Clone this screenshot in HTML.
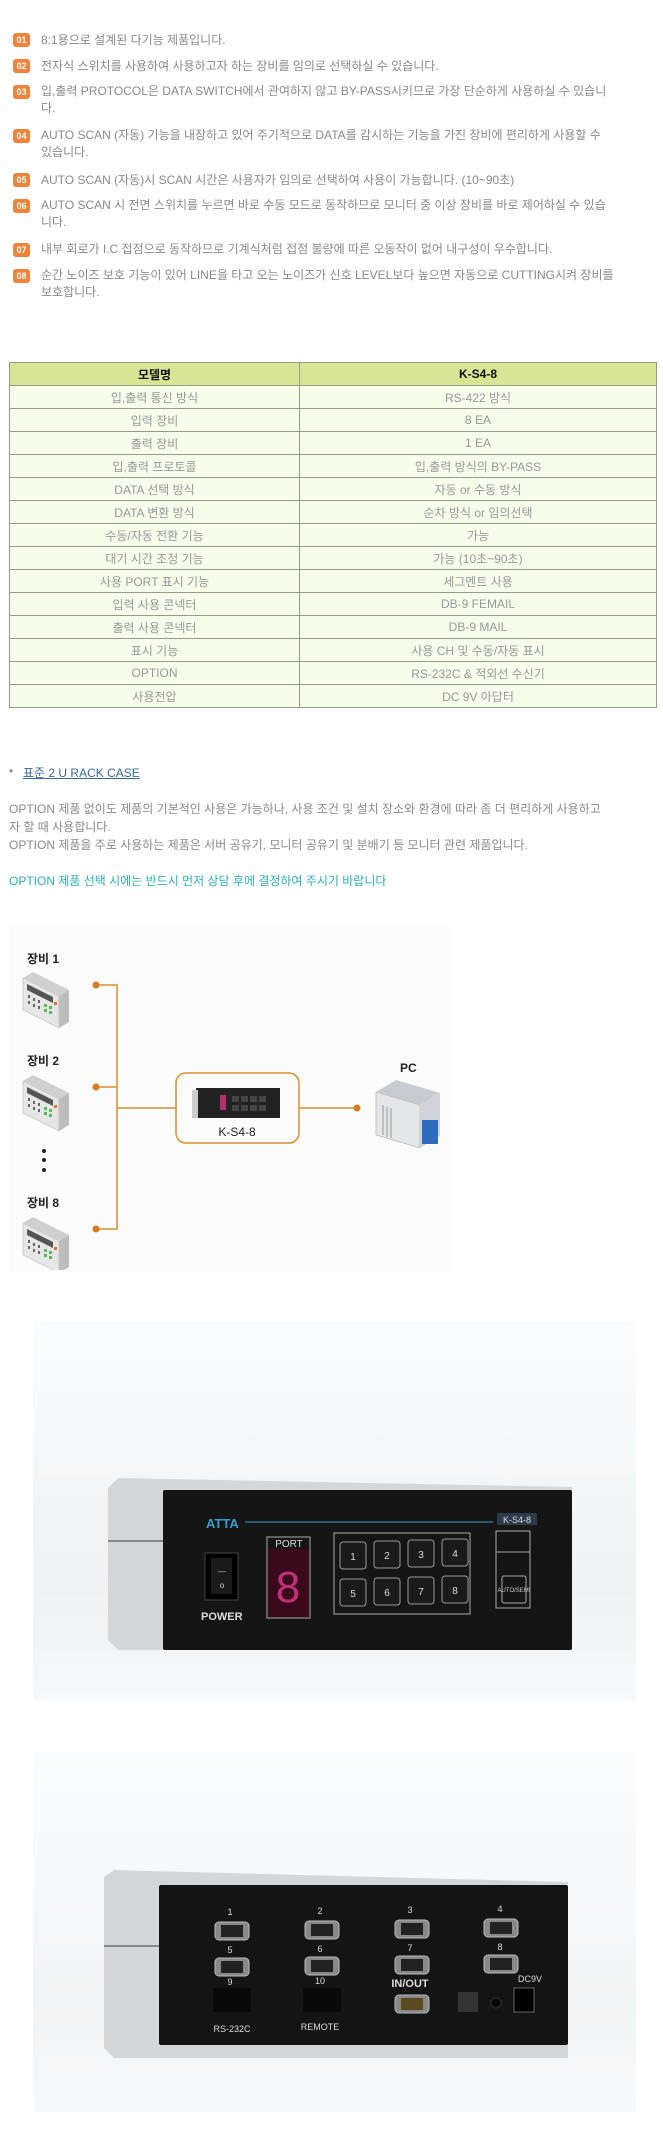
<!DOCTYPE html>
<html><head><meta charset="utf-8">
<style>
*{margin:0;padding:0;box-sizing:border-box}
body{width:663px;height:2130px;background:#fff;position:relative;overflow:hidden;font-family:"Liberation Sans","Noto Sans CJK KR","NanumGothic",sans-serif;font-size:12px;color:#8a8a8a}
.a{position:absolute;white-space:nowrap}
.b{position:absolute;left:13px;width:17px;height:14px;background:#f0823a;border-radius:3px;color:#fff;font-size:9px;font-weight:bold;text-align:center;line-height:14px}
.t{position:absolute;left:41px;line-height:17px}
table{position:absolute;left:9px;top:362px;width:648px;border-collapse:collapse}
td{border:1px solid #9a9a88;height:23px;text-align:center;background:#f6fdea;color:#999;font-size:12px;padding:0}
tr:first-child td{background:#d8e594;color:#111;font-weight:bold}
.k{position:absolute;font-weight:bold;color:#333;font-size:12px}
.dot{position:absolute;width:7px;height:7px;border-radius:50%;background:#d87a1e}
.ln{position:absolute;background:#d8902e}
</style></head><body>
<div class="b" style="top:33px">01</div><div class="t" style="top:32px">8:1용으로 설계된 다기능 제품입니다.</div>
<div class="b" style="top:59px">02</div><div class="t" style="top:58px">전자식 스위치를 사용하여 사용하고자 하는 장비를 임의로 선택하실 수 있습니다.</div>
<div class="b" style="top:85px">03</div><div class="t" style="top:83px">입,출력 PROTOCOL은 DATA SWITCH에서 관여하지 않고 BY-PASS시키므로 가장 단순하게 사용하실 수 있습니<br>다.</div>
<div class="b" style="top:129px">04</div><div class="t" style="top:127px">AUTO SCAN (자동) 기능을 내장하고 있어 주기적으로 DATA를 감시하는 기능을 가진 장비에 편리하게 사용할 수<br>있습니다.</div>
<div class="b" style="top:173px">05</div><div class="t" style="top:172px">AUTO SCAN (자동)시 SCAN 시간은 사용자가 임의로 선택하여 사용이 가능합니다. (10~90초)</div>
<div class="b" style="top:199px">06</div><div class="t" style="top:197px">AUTO SCAN 시 전면 스위치를 누르면 바로 수동 모드로 동작하므로 모니터 중 이상 장비를 바로 제어하실 수 있습<br>니다.</div>
<div class="b" style="top:243px">07</div><div class="t" style="top:241px">내부 회로가 I.C 접점으로 동작하므로 기계식처럼 접점 불량에 따른 오동작이 없어 내구성이 우수합니다.</div>
<div class="b" style="top:269px">08</div><div class="t" style="top:267px">순간 노이즈 보호 기능이 있어 LINE을 타고 오는 노이즈가 신호 LEVEL보다 높으면 자동으로 CUTTING시켜 장비를<br>보호합니다.</div>

<table>
<tr><td style="width:290px">모델명</td><td>K-S4-8</td></tr>
<tr><td>입,출력 통신 방식</td><td>RS-422 방식</td></tr>
<tr><td>입력 장비</td><td>8 EA</td></tr>
<tr><td>출력 장비</td><td>1 EA</td></tr>
<tr><td>입,출력 프로토콜</td><td>입,출력 방식의 BY-PASS</td></tr>
<tr><td>DATA 선택 방식</td><td>자동 or 수동 방식</td></tr>
<tr><td>DATA 변환 방식</td><td>순차 방식 or 임의선택</td></tr>
<tr><td>수동/자동 전환 기능</td><td>가능</td></tr>
<tr><td>대기 시간 조정 기능</td><td>가능 (10초~90초)</td></tr>
<tr><td>사용 PORT 표시 기능</td><td>세그멘트 사용</td></tr>
<tr><td>입력 사용 콘넥터</td><td>DB-9 FEMAIL</td></tr>
<tr><td>출력 사용 콘넥터</td><td>DB-9 MAIL</td></tr>
<tr><td>표시 기능</td><td>사용 CH 및 수동/자동 표시</td></tr>
<tr><td>OPTION</td><td>RS-232C &amp; 적외선 수신기</td></tr>
<tr><td>사용전압</td><td>DC 9V 아답터</td></tr>
</table>

<div class="a" style="left:9px;top:764px;color:#6a8fb8">•</div>
<div class="a" style="left:23px;top:764px;color:#3a6a9a;text-decoration:underline">표준 2 U RACK CASE</div>
<div class="a" style="left:9px;top:800px;line-height:18px">OPTION 제품 없이도 제품의 기본적인 사용은 가능하나, 사용 조건 및 설치 장소와 환경에 따라 좀 더 편리하게 사용하고<br>자 할 때 사용합니다.<br>OPTION 제품을 주로 사용하는 제품은 서버 공유기, 모니터 공유기 및 분배기 등 모니터 관련 제품입니다.</div>
<div class="a" style="left:9px;top:872px;color:#2fb0b0">OPTION 제품 선택 시에는 반드시 먼저 상담 후에 결정하여 주시기 바랍니다</div>

<div class="a" style="left:9px;top:925px;width:440px;height:348px;background:#fbfbfb"></div>
<svg class="a" style="left:0;top:940px" width="460" height="330">
<defs><g id="dev">
<polygon points="0,0 36,18 36,50 0,32" fill="#e6e6e6" stroke="#aaa" stroke-width="0.5"/>
<polygon points="36,18 46,12 46,44 36,50" fill="#bdbdbd"/>
<polygon points="0,0 10,-6 46,12 36,18" fill="#d0d0d0"/>
<polygon points="4,6 30,19 30,25 4,12" fill="#555"/>
<g fill="#666"><rect x="5" y="17" width="2" height="3"/><rect x="10" y="20" width="2" height="3"/><rect x="15" y="22" width="2" height="3"/><rect x="5" y="23" width="2" height="3"/><rect x="10" y="26" width="2" height="3"/><rect x="15" y="28" width="2" height="3"/></g>
<g fill="#5cb85c"><rect x="21" y="26" width="3" height="3"/><rect x="26" y="28" width="3" height="3"/><rect x="21" y="31" width="3" height="3"/><rect x="26" y="33" width="3" height="3"/></g>
<rect x="31" y="24" width="3" height="3" fill="#e07030"/>
</g></defs>
<g font-size="12" fill="#222" font-weight="bold">
<text x="27" y="23">장비 1</text><text x="27" y="125">장비 2</text><text x="27" y="267">장비 8</text><text x="400" y="132">PC</text></g>
<use href="#dev" x="23" y="38"/><use href="#dev" x="23" y="141"/><use href="#dev" x="23" y="283"/>
<g fill="#222"><circle cx="44" cy="211" r="2"/><circle cx="44" cy="220" r="2"/><circle cx="44" cy="230" r="2"/></g>
<g stroke="#d8902e" stroke-width="1.5" fill="none">
<path d="M96 45 H117 V289 H96"/><path d="M96 147 H117"/><path d="M117 168 H176"/><path d="M299 168 H357"/>
<rect x="176" y="133" width="123" height="70" rx="10"/></g>
<g fill="#d87a1e"><circle cx="96" cy="45" r="3.5"/><circle cx="96" cy="147" r="3.5"/><circle cx="96" cy="289" r="3.5"/><circle cx="357" cy="168" r="3.5"/></g>
<rect x="196" y="148" width="84" height="30" fill="#222"/><rect x="192" y="150" width="6" height="28" fill="#ccc"/>
<rect x="220" y="155" width="6" height="15" fill="#b0306a"/>
<g fill="#444"><rect x="232" y="156" width="7" height="6"/><rect x="241" y="156" width="7" height="6"/><rect x="250" y="156" width="7" height="6"/><rect x="259" y="156" width="7" height="6"/><rect x="232" y="165" width="7" height="6"/><rect x="241" y="165" width="7" height="6"/><rect x="250" y="165" width="7" height="6"/><rect x="259" y="165" width="7" height="6"/></g>
<text x="237" y="196" font-size="12" fill="#222" text-anchor="middle">K-S4-8</text>
<polygon points="376,152 376,195 420,208 420,165" fill="#e4e6e8" stroke="#999" stroke-width=".5"/>
<polygon points="376,152 396,140 440,153 420,165" fill="#c8ccd0"/>
<polygon points="420,165 440,153 440,196 420,208" fill="#d0d4d8"/>
<rect x="422" y="180" width="16" height="24" fill="#2b6cc0"/>
<g stroke="#999"><line x1="383" y1="165" x2="383" y2="195"/><line x1="387" y1="167" x2="387" y2="197"/><line x1="391" y1="168" x2="391" y2="198"/></g>
</svg>

<div class="a" style="left:33px;top:1321px;width:603px;height:380px;background:linear-gradient(#fbfcfd,#eef2f5 70%,#f6f8fa)"></div>
<svg class="a" style="left:0;top:1460px" width="663" height="210">
<polygon points="108,28 118,18 572,27 572,190 118,190 108,180" fill="#d4d6d8"/>
<rect x="108" y="80" width="56" height="2" fill="#888"/>
<rect x="163" y="30" width="409" height="160" fill="#151515" rx="2"/>
<text x="206" y="68" fill="#3a9fd0" font-size="13" font-weight="bold">ATTA</text>
<line x1="245" y1="62" x2="493" y2="62" stroke="#3a9fd0" stroke-width="1"/>
<rect x="497" y="53" width="40" height="12" fill="#2a3a4a"/><text x="517" y="63" fill="#ddd" font-size="9" text-anchor="middle">K-S4-8</text>
<rect x="205" y="93" width="33" height="47" fill="#000" stroke="#444"/><rect x="211" y="98" width="21" height="36" fill="#1a1a1a"/>
<text x="222" y="114" fill="#ccc" font-size="8" text-anchor="middle">—</text><text x="222" y="128" fill="#ccc" font-size="8" text-anchor="middle">o</text>
<text x="201" y="160" fill="#ddd" font-size="11" font-weight="bold">POWER</text>
<rect x="267" y="77" width="43" height="81" fill="none" stroke="#aaa"/><rect x="268" y="89" width="41" height="68" fill="#3a0a1a"/>
<text x="289" y="87" fill="#ddd" font-size="10" text-anchor="middle">PORT</text>
<text x="288" y="142" fill="#c0307a" font-size="44" text-anchor="middle">8</text>
<rect x="334" y="73" width="136" height="81" fill="none" stroke="#aaa"/>
<g fill="#1a1a1a" stroke="#999"><rect x="340" y="82" width="26" height="27" rx="3"/><rect x="374" y="81" width="26" height="27" rx="3"/><rect x="408" y="80" width="26" height="27" rx="3"/><rect x="442" y="79" width="26" height="27" rx="3"/>
<rect x="340" y="119" width="26" height="27" rx="3"/><rect x="374" y="118" width="26" height="27" rx="3"/><rect x="408" y="117" width="26" height="27" rx="3"/><rect x="442" y="116" width="26" height="27" rx="3"/></g>
<g fill="#ddd" font-size="10" text-anchor="middle"><text x="353" y="100">1</text><text x="387" y="99">2</text><text x="421" y="98">3</text><text x="455" y="97">4</text><text x="353" y="137">5</text><text x="387" y="136">6</text><text x="421" y="135">7</text><text x="455" y="134">8</text></g>
<rect x="496" y="71" width="34" height="77" fill="none" stroke="#aaa"/><line x1="496" y1="92" x2="530" y2="92" stroke="#aaa"/>
<rect x="502" y="116" width="24" height="27" rx="2" fill="none" stroke="#aaa"/><text x="514" y="132" fill="#ccc" font-size="6" text-anchor="middle">AUTO/SEMI</text>
</svg>

<div class="a" style="left:33px;top:1750px;width:603px;height:362px;background:linear-gradient(#fbfcfd,#f1f4f6 70%,#f6f8fa)"></div>
<svg class="a" style="left:0;top:1870px" width="663" height="200">
<polygon points="104,7 114,0 568,12 568,188 114,188 104,178" fill="#d4d6d8"/>
<rect x="104" y="75" width="56" height="2" fill="#888"/>
<rect x="159" y="15" width="409" height="160" fill="#141414" rx="2"/>
<g id="c"></g>
<g fill="#888" stroke="#bbb">
<rect x="215" y="52" width="34" height="18" rx="4"/><rect x="305" y="51" width="34" height="18" rx="4"/><rect x="395" y="50" width="34" height="18" rx="4"/><rect x="484" y="49" width="34" height="18" rx="4"/>
<rect x="215" y="88" width="34" height="18" rx="4"/><rect x="305" y="87" width="34" height="18" rx="4"/><rect x="395" y="86" width="34" height="18" rx="4"/><rect x="484" y="85" width="34" height="18" rx="4"/>
<rect x="395" y="125" width="34" height="18" rx="4"/></g>
<g fill="#222"><rect x="221" y="55" width="22" height="12"/><rect x="311" y="54" width="22" height="12"/><rect x="401" y="53" width="22" height="12"/><rect x="490" y="52" width="22" height="12"/>
<rect x="221" y="91" width="22" height="12"/><rect x="311" y="90" width="22" height="12"/><rect x="401" y="89" width="22" height="12"/><rect x="490" y="88" width="22" height="12"/><rect x="401" y="128" width="22" height="12" fill="#5a4a20"/>
<rect x="213" y="118" width="38" height="24" fill="#0a0a0a"/><rect x="303" y="118" width="38" height="24" fill="#0a0a0a"/></g>
<g fill="#ddd" font-size="9" text-anchor="middle"><text x="230" y="45">1</text><text x="320" y="44">2</text><text x="410" y="43">3</text><text x="500" y="42">4</text><text x="230" y="83">5</text><text x="320" y="82">6</text><text x="410" y="81">7</text><text x="500" y="80">8</text><text x="230" y="115">9</text><text x="320" y="114">10</text>
<text x="232" y="162">RS-232C</text><text x="320" y="160">REMOTE</text><text x="530" y="112">DC9V</text></g>
<text x="410" y="117" fill="#ddd" font-size="11" font-weight="bold" text-anchor="middle">IN/OUT</text>
<rect x="458" y="122" width="20" height="20" fill="#333"/><circle cx="496" cy="133" r="5" fill="#000" stroke="#333"/><rect x="514" y="118" width="20" height="24" fill="#000" stroke="#666"/>
</svg>
</body></html>
